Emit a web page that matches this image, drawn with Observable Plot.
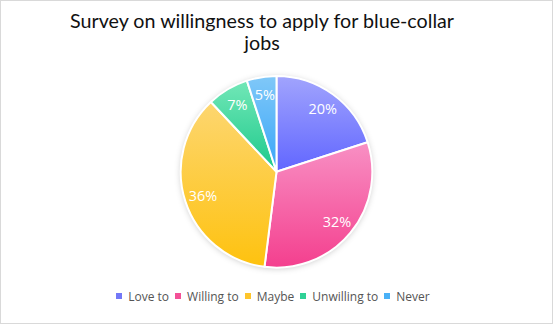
<!DOCTYPE html>
<html>
<head>
<meta charset="utf-8">
<script src="https://cdn.jsdelivr.net/npm/d3@7"></script>
<script src="https://cdn.jsdelivr.net/npm/@observablehq/plot@0.6"></script>
<style>
  body { margin: 0; background: #fff; }
  #chart {
    position: relative; width: 553px; height: 324px; box-sizing: border-box;
    border: 1px solid #d9d9d9; background: #fff; overflow: hidden;
    font-family: "Open Sans", sans-serif;
  }
  #title {
    position: absolute; left: 51px; top: 9px; width: 420px;
    text-align: center; font-family: Lato, sans-serif; font-size: 19.7px; line-height: 22px; color: #111;
  }
  #pie { position: absolute; left: -1px; top: 60px; }
  #legend { position: absolute; left: -1px; right: 0; top: 286px; }
  #legend, #legend * { font-family: "Open Sans", sans-serif !important; font-size: 12px !important; color: #555; }
  #legend > * { margin: 0 !important; }
  #legend div { justify-content: center; min-height: 18px !important; }
  #legend .pl-swatch { margin-right: 6px !important; }
  #legend .pl-swatch > svg { margin-right: 6px !important; }
</style>
</head>
<body>
<div id="chart">
  <div id="title">Survey on willingness to apply for blue-collar jobs</div>
  <div id="pie"></div>
  <div id="legend"></div>
</div>
<script>
// Survey answers, in the order the slices run clockwise from 12 o'clock
const categories = ["Love to", "Willing to", "Maybe", "Unwilling to", "Never"];
const shares = [20, 32, 36, 7, 5];

// Each slice fades vertically from a light tint to its full colour
const gradientTop = ["#a1a4fd", "#f890c4", "#fdd670", "#72e7b7", "#80c8f8"];
const gradientBottom = ["#6166ff", "#f43f8e", "#fec20f", "#1cc98b", "#38a5f8"];
const swatchColors = ["#7378f7", "#f35197", "#fec52c", "#2fd196", "#4ab1f7"];

const width = 553, height = 220;
const cx = 277, cy = 111, radius = 96, labelRadius = 78;

const data = categories.map((category, i) => ({category, share: shares[i], i}));
const arcs = d3.pie().sort(null).value(d => d.share)(data);
const arc = d3.arc().innerRadius(0).outerRadius(radius);
const labelArc = d3.arc().innerRadius(labelRadius).outerRadius(labelRadius);
const labels = arcs.map(a => {
  const [x, y] = labelArc.centroid(a);
  return {x: cx + x, y: cy + y, text: a.data.share + "%"};
});

// Slices with per-slice vertical gradients and a soft shadow around the disc
function slices() {
  const g = d3.create("svg:g");
  const defs = g.append("defs");
  defs.append("filter").attr("id", "pie-shadow").attr("x", "-20%").attr("y", "-20%").attr("width", "140%").attr("height", "140%")
    .append("feDropShadow").attr("dx", 0).attr("dy", 1).attr("stdDeviation", 3)
    .attr("flood-color", "#000").attr("flood-opacity", 0.22);
  arcs.forEach((a, i) => {
    const lg = defs.append("linearGradient").attr("id", "slice-grad-" + i)
      .attr("x1", 0).attr("y1", 0).attr("x2", 0).attr("y2", 1);
    lg.append("stop").attr("offset", "0%").attr("stop-color", gradientTop[i]);
    lg.append("stop").attr("offset", "100%").attr("stop-color", gradientBottom[i]);
  });
  const pie = g.append("g").attr("transform", `translate(${cx},${cy})`);
  pie.append("circle").attr("r", radius).attr("fill", "#fff").attr("filter", "url(#pie-shadow)");
  pie.selectAll("path").data(arcs).join("path")
    .attr("d", arc)
    .attr("fill", (a, i) => `url(#slice-grad-${i})`)
    .attr("stroke", "#fff").attr("stroke-width", 2).attr("stroke-linejoin", "round");
  return g.node();
}

const chart = Plot.plot({
  width, height,
  margin: 0,
  x: {type: "identity", axis: null},
  y: {type: "identity", axis: null},
  style: {background: "transparent", overflow: "visible"},
  marks: [
    slices,
    Plot.text(labels, {x: "x", y: "y", text: "text", fill: "#fff", fontSize: 14.5, fontFamily: "Open Sans, sans-serif"})
  ]
});
document.getElementById("pie").appendChild(chart);

const legend = Plot.legend({
  color: {type: "ordinal", domain: categories, range: swatchColors},
  swatchSize: 6,
  className: "pl"
});
document.getElementById("legend").appendChild(legend);
</script>
</body>
</html>
